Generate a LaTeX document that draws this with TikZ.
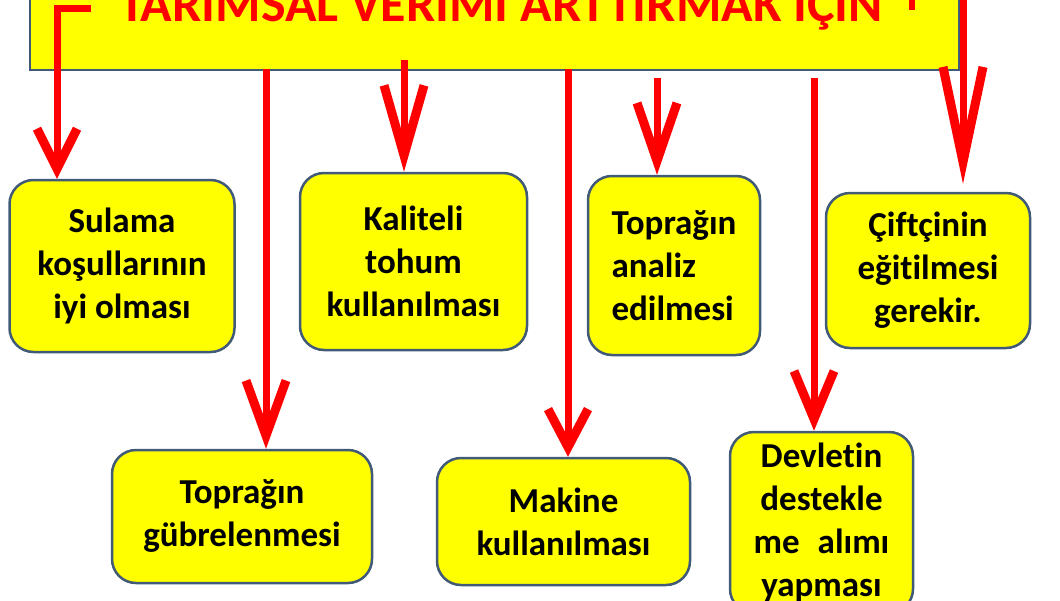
\documentclass[tikz,border=0pt]{standalone}
\usepackage{fontspec}
\setmainfont{Carlito}[Ligatures=NoCommon]
\usetikzlibrary{arrows.meta}
\definecolor{slidered}{RGB}{255,0,0}
\definecolor{slideyellow}{RGB}{255,255,0}
\definecolor{boxedge}{RGB}{65,90,120}

\begin{document}
\begin{tikzpicture}[
	x=1pt,y=-1pt,
	aimbox/.style={draw=boxedge,line width=2.5pt,fill=slideyellow,rounded corners=24pt,
		align=center,inner sep=0pt,font=\bfseries\fontsize{35}{43}\selectfont},
	redarrow/.style={draw=slidered,line width=7pt,
		-{Straight Barb[length=#1,width=40pt,line width=9pt]}}
	]
	\useasboundingbox (0,0) rectangle (1060,600);
	\node[draw=boxedge,line width=2pt,fill=slideyellow,minimum width=929pt,
		minimum height=90pt,anchor=south west] (title) at (29,71) {};
	\node[text=slidered,font=\bfseries\fontsize{52}{54}\selectfont,anchor=base]
		(titletext) at (501,21) {TARIMSAL VERİMİ ARTTIRMAK İÇİN};
	% first row
	\node[aimbox,minimum width=225pt,minimum height=172pt] (sulama) at (122,266)
		{Sulama\\koşullarının\\iyi olması};
	\node[aimbox,minimum width=227pt,minimum height=177pt] (tohum) at (413.5,261.5)
		{Kaliteli\\tohum\\kullanılması};
	\node[aimbox,align=left,minimum width=172pt,minimum height=179pt] (analiz) at (674,265.5)
		{Toprağın\\analiz\\edilmesi};
	\node[aimbox,minimum width=204pt,minimum height=155pt] (ciftci) at (928,270.5)
		{Çiftçinin\\eğitilmesi\\gerekir.};
	% second row
	\node[aimbox,minimum width=260pt,minimum height=133pt] (gubre) at (242,516.5)
		{Toprağın\\gübrelenmesi};
	\node[aimbox,minimum width=253pt,minimum height=127pt] (makine) at (563.5,521.5)
		{Makine\\kullanılması};
	\node[aimbox,minimum width=183pt,minimum height=181pt] (devlet) at (821.5,522.5)
		{Devletin\\destekle\\me\hspace{18pt}alımı\\yapması};
	% arrows
	\coordinate (a1) at (91,8);
	\coordinate (k1) at (57,8);
	\coordinate (a2) at (266,69);
	\coordinate (a3) at (404,60);
	\coordinate (a4) at (568,69);
	\coordinate (a5) at (657,78);
	\coordinate (a6) at (814,78);
	\coordinate (a7) at (963,-5);
	\draw[redarrow=40pt] (a1) -- (k1) -- (k1 |- sulama.north);
	\draw[redarrow=55pt] (a2) -- (a2 |- gubre.north);
	\draw[redarrow=70pt] (a3) -- (a3 |- tohum.north);
	\draw[redarrow=38pt] (a4) -- (a4 |- makine.north);
	\draw[redarrow=58pt] (a5) -- (a5 |- analiz.north);
	\draw[redarrow=48pt] (a6) -- (a6 |- devlet.north);
	\draw[redarrow=95pt,shorten >=8pt] (a7) -- (a7 |- ciftci.north);
	\draw[slidered,line width=6pt] (912,-5) -- (912,10);
\end{tikzpicture}
\end{document}
